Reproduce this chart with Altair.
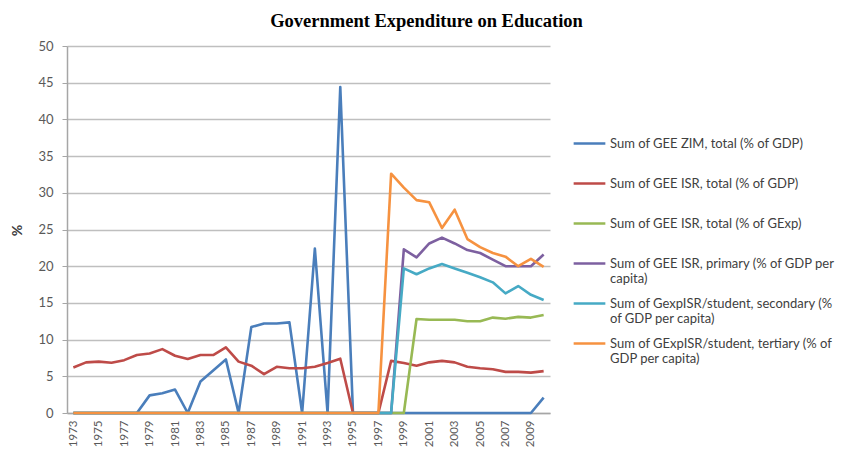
import json
import altair as alt
import pandas as pd

years = list(range(1973, 2011))

series_names = [
    "Sum of GEE ZIM, total (% of GDP)",
    "Sum of GEE ISR, total (% of GDP)",
    "Sum of GEE ISR, total (% of GExp)",
    "Sum of GEE ISR, primary (% of GDP per capita)",
    "Sum of GexpISR/student, secondary (% of GDP per capita)",
    "Sum of GExpISR/student, tertiary (% of GDP per capita)",
]

legend_lines = [
    ["Sum of GEE ZIM, total (% of GDP)", " "],
    ["Sum of GEE ISR, total (% of GDP)", " "],
    ["Sum of GEE ISR, total (% of GExp)", " "],
    ["Sum of GEE ISR, primary (% of GDP per", "capita)"],
    ["Sum of GexpISR/student, secondary (%", "of GDP per capita)"],
    ["Sum of GExpISR/student, tertiary (% of", "GDP per capita)"],
]

series_colors = ["#4A7EBB", "#BE4B48", "#98B954", "#7D60A0", "#46AAC5", "#F69240"]

gee_zim_total_gdp = [0, 0, 0, 0, 0, 0, 2.4, 2.7, 3.2, 0, 4.3, 5.8, 7.3, 0, 11.7, 12.2,
                     12.2, 12.35, 0, 22.4, 0, 44.4, 0, 0, 0, 0, 0, 0, 0, 0, 0, 0, 0,
                     0, 0, 0, 0, 2.1]
gee_isr_total_gdp = [6.2, 6.9, 7.0, 6.85, 7.2, 7.9, 8.1, 8.7, 7.8, 7.35, 7.9, 7.9, 8.95,
                     7.0, 6.45, 5.3, 6.3, 6.1, 6.1, 6.3, 6.8, 7.4, 0, 0, 0, 7.1, 6.8,
                     6.45, 6.9, 7.1, 6.9, 6.3, 6.1, 5.95, 5.6, 5.6, 5.5, 5.7]
gee_isr_total_gexp = [0] * 27 + [12.8, 12.7, 12.7, 12.7, 12.5, 12.5, 13.0, 12.85, 13.1,
                                 13.0, 13.35]
gee_isr_primary = [0] * 26 + [22.3, 21.2, 23.1, 23.9, 23.1, 22.2, 21.8, 20.9, 20.0, 20.0,
                              20.0, 21.6]
gexp_isr_secondary = [0] * 26 + [19.7, 18.9, 19.7, 20.3, 19.7, 19.1, 18.5, 17.8, 16.3,
                                 17.3, 16.1, 15.4]
gexp_isr_tertiary = [0] * 25 + [32.6, 30.7, 29.0, 28.7, 25.2, 27.7, 23.7, 22.6, 21.8,
                                21.3, 20.0, 21.0, 19.9]

y_ticks = [0, 5, 10, 15, 20, 25, 30, 35, 40, 45, 50]
x_tick_years = list(range(1973, 2011, 2))

all_series = [gee_zim_total_gdp, gee_isr_total_gdp, gee_isr_total_gexp,
              gee_isr_primary, gexp_isr_secondary, gexp_isr_tertiary]

rows = []
for order, (name, vals) in enumerate(zip(series_names, all_series)):
    for yr, v in zip(years, vals):
        rows.append({"year": yr, "value": v, "series": name, "order": order})
df = pd.DataFrame(rows)

label_map = {n: l for n, l in zip(series_names, legend_lines)}
label_expr = json.dumps(label_map) + "[datum.label]"

chart = alt.Chart(df).mark_line(strokeWidth=2.6, strokeJoin="round").encode(
    x=alt.X("year:O",
            scale=alt.Scale(type="point", padding=0.5),
            axis=alt.Axis(values=x_tick_years, labelAngle=-90, ticks=False, grid=False,
                          title=None, labelPadding=7, labelFont="Lato", labelFontSize=11.5,
                          labelColor="#595959", domainColor="#A6A6A6", domainWidth=1.5)),
    y=alt.Y("value:Q",
            scale=alt.Scale(domain=[0, 50], nice=False),
            axis=alt.Axis(values=y_ticks, title="%", titleFont="Lato", titleFontSize=14,
                          titleFontWeight="bold", titleColor="#404040", titleX=-50,
                          titleY=184, titleAngle=270, titleAlign="center",
                          titleBaseline="middle",
                          labelFont="Lato", labelFontSize=13, labelColor="#595959",
                          tickSize=5, tickColor="#A6A6A6", labelPadding=9,
                          grid=True, gridColor="#BFBFBF", gridWidth=1.5,
                          domainColor="#A6A6A6", domainWidth=1.5)),
    color=alt.Color("series:N",
                    scale=alt.Scale(domain=series_names, range=series_colors),
                    legend=alt.Legend(title=None, orient="none", legendX=505, legendY=80,
                                      symbolType="stroke", symbolSize=1005,
                                      symbolStrokeWidth=2.5, labelFont="Lato",
                                      labelFontSize=13, labelColor="#404040",
                                      labelBaseline="middle",
                                      labelOffset=3, rowPadding=-2.2, labelLimit=400,
                                      labelExpr=label_expr)),
    order=alt.Order("order:Q"),
    detail="series:N",
).properties(
    width=483,
    height=367,
    title=alt.TitleParams("Government Expenditure on Education", font="Liberation Serif",
                          fontSize=18.5, fontWeight="bold", color="#000000",
                          anchor="middle", dx=118, offset=10),
    autosize=alt.AutoSizeParams(type="none"),
    padding={"left": 59, "top": 38, "right": 295, "bottom": 35},
).configure_view(stroke=None)

chart.save("out.html", embed_options={"renderer": "svg", "actions": False})
